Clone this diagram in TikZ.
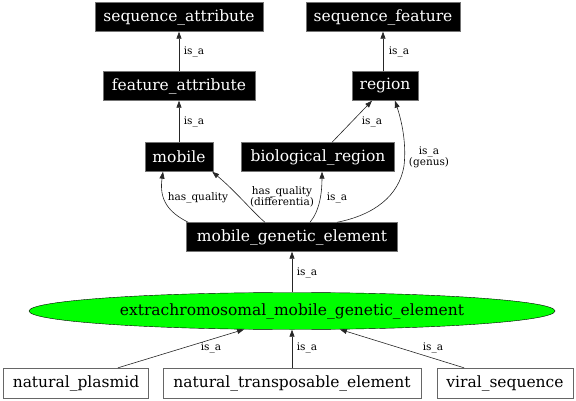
\documentclass[tikz,border=0pt]{standalone}
\usepackage{fontspec}
\setmainfont{DejaVu Serif}
\usetikzlibrary{shapes.geometric,arrows.meta}
\definecolor{brightgreen}{RGB}{0,255,0}
\begin{document}
\begin{tikzpicture}[x=1pt,y=-1pt,
  nodefont/.style={font=\fontsize{15.5}{17}\selectfont},
  blk/.style={nodefont,rectangle,fill=black,draw=black!55,text=white,inner sep=0pt,minimum height=29pt},
  wht/.style={nodefont,rectangle,fill=white,draw=black!60,text=black,inner sep=0pt,minimum height=30pt},
  ell/.style={nodefont,ellipse,fill=brightgreen,draw=black,inner sep=0pt,minimum width=526pt,minimum height=37pt},
  lbl/.style={font=\fontsize{10.5}{11}\selectfont,inner sep=0pt,align=center},
  conn/.style={draw=black!85,line width=0.6pt,-{Triangle[length=7pt,width=5pt]}}
]
\useasboundingbox (0,0) rectangle (576,401);
% nodes
\node[blk,minimum width=168pt] (sa) at (179,17) {sequence\_attribute};
\node[blk,minimum width=154pt] (sf) at (383,17) {sequence\_feature};
\node[blk,minimum width=152pt] (fa) at (179,86) {feature\_attribute};
\node[blk,minimum width=66pt] (rg) at (385,86) {region};
\node[blk,minimum width=68pt] (mo) at (179,157) {mobile};
\node[blk,minimum width=153pt] (br) at (318,157) {biological\_region};
\node[blk,minimum width=211pt] (mge) at (292,237) {mobile\_genetic\_element};
\node[ell] (ell) at (292,311) {extrachromosomal\_mobile\_genetic\_element};
\node[wht,minimum width=145pt] (np) at (76,383) {natural\_plasmid};
\node[wht,minimum width=258pt] (nte) at (292,383) {natural\_transposable\_element};
\node[wht,minimum width=136pt] (vs) at (505,383) {viral\_sequence};
% edges
\draw[conn] (fa) -- (sa);
\draw[conn] (rg.north -| sf.south) -- (sf);
\draw[conn] (mo) -- (fa);
\draw[conn] ([xshift=14pt]br.north) -- ([xshift=-13pt]rg.south);
\draw[conn] ([xshift=2pt]mge.north west) .. controls +(-20,-10) and +(-4,28) .. ([xshift=-16pt]mo.south);
\draw[conn] ([xshift=-27pt]mge.north) .. controls +(-12,-10) and +(24,20) .. ([xshift=-1pt]mo.south east);
\draw[conn] ([xshift=18pt]mge.north) .. controls +(10,-12) and +(0,20) .. ([xshift=4pt]br.south);
\draw[conn] ([xshift=45pt]mge.north) .. controls (374,215) and (399,196) .. (404,166) .. controls (407,140) and (400,116) .. ([xshift=10pt]rg.south);
\draw[conn] (ell) -- (mge);
\draw[conn] ([xshift=42pt]np.north) -- (ell.201);
\draw[conn] (nte) -- (ell);
\draw[conn] ([xshift=-41pt]vs.north) -- (ell.339);
% labels
\node[lbl] (l1) at (194,52) {is\_a};
\node[lbl] (l2) at (399,52) {is\_a};
\node[lbl] (l3) at (194,122) {is\_a};
\node[lbl] (l4) at (372,122) {is\_a};
\node[lbl] (l5) at (429,157) {is\_a\\(genus)};
\node[lbl] (l6) at (198,198) {has\_quality};
\node[lbl] (l7) at (282,197) {has\_quality\\(differentia)};
\node[lbl] (l8) at (337,198) {is\_a};
\node[lbl] (l9) at (307,273) {is\_a};
\node[lbl] (l10) at (211,348) {is\_a};
\node[lbl] (l11) at (307,348) {is\_a};
\node[lbl] (l12) at (433,348) {is\_a};
\end{tikzpicture}
\end{document}
